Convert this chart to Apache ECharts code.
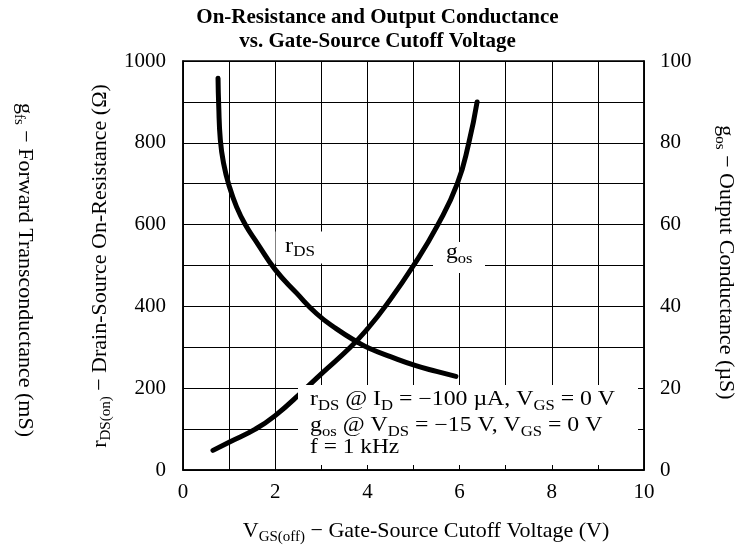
<!DOCTYPE html>
<html>
<head>
<meta charset="utf-8">
<script src="https://cdn.jsdelivr.net/npm/echarts@6/dist/echarts.min.js"></script>
<style>
  html, body { margin: 0; padding: 0; background: #fff; }
  #chart { width: 755px; height: 552px; }
</style>
</head>
<body>
<div id="chart"></div>
<script>
// values
const vgsRds = [0.76, 0.775, 0.81, 0.88, 1.0, 1.16, 1.35, 1.62, 2.0, 2.46, 2.9, 3.33, 3.78, 4.05, 4.5, 5.05, 5.5, 5.92];
const rdsOhm = [958, 890, 807, 750, 695, 644, 600, 553, 490, 433, 382, 345, 313, 297, 277, 255, 241, 229];
const vgsGos = [0.65, 1.0, 1.57, 2.0, 2.62, 3.0, 3.63, 4.0, 4.42, 5.0, 5.53, 5.95, 6.2, 6.38];
const gosUs = [4.8, 6.8, 10, 13.3, 19.5, 23.5, 30, 34.5, 40.5, 50, 60, 70, 80, 90];

const FONT = '"Liberation Serif", "Times New Roman", serif';

// rich styles: m = normal, s = subscript (pushed down with top padding)
const richSmall = {
  m: { font: '20px ' + FONT, lineHeight: 22, fill: '#000' },
  s: { font: '14px ' + FONT, lineHeight: 14, padding: [12, 0, 0, 0], fill: '#000' }
};
const richBig = {
  m: { font: '22px ' + FONT, lineHeight: 24, fill: '#000' },
  s: { font: '15px ' + FONT, lineHeight: 15, padding: [12, 0, 0, 0], fill: '#000' }
};

function txt(x, y, text, rich, opts) {
  opts = opts || {};
  return {
    type: 'text', x: x, y: y, z: 60,
    rotation: opts.rotation || 0,
    scaleX: opts.scaleX || 1,
    style: {
      text: text, rich: rich, fill: '#000',
      textAlign: opts.align || 'left', textVerticalAlign: 'middle'
    }
  };
}
function box(x, y, w, h) {
  return { type: 'rect', z: 50, shape: { x: x, y: y, width: w, height: h }, style: { fill: '#fff' } };
}

const chart = echarts.init(document.getElementById('chart'));

const option = {
  animation: false,
  backgroundColor: '#fff',
  grid: { left: 183, right: 111, top: 61, bottom: 82, show: true, borderColor: '#000', borderWidth: 1.5, backgroundColor: 'transparent' },
  xAxis: {
    type: 'value', min: 0, max: 10, interval: 1,
    axisLine: { lineStyle: { color: '#000', width: 1.5 } },
    axisTick: { inside: true, length: 5, lineStyle: { color: '#000' } },
    splitLine: { lineStyle: { color: '#000', width: 1 } },
    axisLabel: {
      color: '#000', fontFamily: FONT, fontSize: 21, margin: 12,
      formatter: v => (v % 2 === 0 ? String(v) : '')
    }
  },
  yAxis: [
    {
      type: 'value', min: 0, max: 1000, interval: 100,
      axisLine: { show: true, lineStyle: { color: '#000', width: 1.5 } },
      axisTick: { show: true, inside: true, length: 5, lineStyle: { color: '#000' } },
      splitLine: { lineStyle: { color: '#000', width: 1 } },
      axisLabel: {
        color: '#000', fontFamily: FONT, fontSize: 21, margin: 17,
        formatter: v => (v % 200 === 0 ? String(v) : '')
      }
    },
    {
      type: 'value', min: 0, max: 100, interval: 10, position: 'right',
      axisLine: { show: true, lineStyle: { color: '#000', width: 1.5 } },
      axisTick: { show: true, inside: true, length: 5, lineStyle: { color: '#000' } },
      splitLine: { show: false },
      axisLabel: {
        color: '#000', fontFamily: FONT, fontSize: 21, margin: 16,
        formatter: v => (v % 20 === 0 ? String(v) : '')
      }
    }
  ],
  series: [
    {
      name: 'rDS', type: 'line', yAxisIndex: 0, silent: true,
      data: vgsRds.map((v, i) => [v, rdsOhm[i]]),
      showSymbol: false, smooth: 0.5, z: 5,
      lineStyle: { color: '#000', width: 5, cap: 'round' }
    },
    {
      name: 'gos', type: 'line', yAxisIndex: 1, silent: true,
      data: vgsGos.map((v, i) => [v, gosUs[i]]),
      showSymbol: false, smooth: 0.5, z: 5,
      lineStyle: { color: '#000', width: 5, cap: 'round' }
    }
  ],
  graphic: [
    {
      type: 'text', x: 377.5, y: 30, z: 60,
      style: {
        text: 'On-Resistance and Output Conductance\nvs. Gate-Source Cutoff Voltage',
        font: 'bold 21px ' + FONT, lineHeight: 24, fill: '#000',
        textAlign: 'center', textVerticalAlign: 'middle'
      }
    },
    // white patches behind the in-plot labels
    box(298, 385, 340, 80),
    box(275.5, 231.5, 49, 32),
    box(433, 242, 52, 31),
    txt(285, 246.5, '{m|r}{s|DS}', richSmall, { scaleX: 1.22 }),
    txt(446, 253, '{m|g}{s|os}', richSmall, { scaleX: 1.18 }),
    txt(310, 400, '{m|r}{s|DS}{m| @ I}{s|D}{m| = −100 µA, V}{s|GS}{m| = 0 V}', richSmall, { scaleX: 1.19 }),
    txt(310, 426, '{m|g}{s|os}{m| @ V}{s|DS}{m| = −15 V, V}{s|GS}{m| = 0 V}', richSmall, { scaleX: 1.19 }),
    txt(310, 448, '{m|f = 1 kHz}', richSmall, { scaleX: 1.17 }),
    // axis names
    txt(426, 531, '{m|V}{s|GS(off)}{m| − Gate-Source Cutoff Voltage (V)}', richBig, { align: 'center' }),
    txt(100.5, 266, '{m|r}{s|DS(on)}{m| − Drain-Source On-Resistance (Ω)}', richBig, { align: 'center', rotation: Math.PI / 2 }),
    txt(24.5, 270, '{m|g}{s|fs}{m| − Forward Transconductance (mS)}', richBig, { align: 'center', rotation: -Math.PI / 2 }),
    txt(725.5, 262.5, '{m|g}{s|os}{m| − Output Conductance (µS)}', richBig, { align: 'center', rotation: -Math.PI / 2 })
  ]
};

chart.setOption(option);
</script>
</body>
</html>
